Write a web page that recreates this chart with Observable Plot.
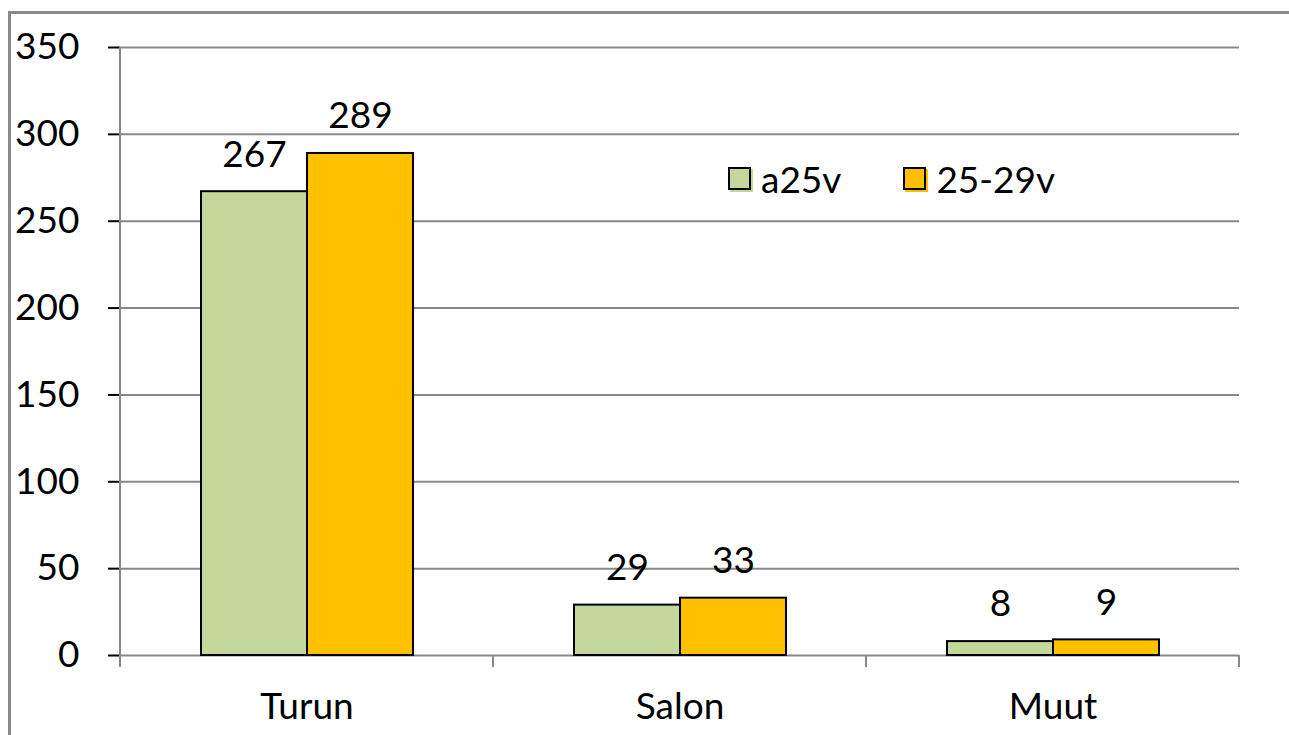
<!DOCTYPE html>
<html>
<head>
<meta charset="utf-8">
<script src="https://cdn.jsdelivr.net/npm/d3@7"></script>
<script src="https://cdn.jsdelivr.net/npm/@observablehq/plot@0.6"></script>
<style>
  html, body { margin: 0; padding: 0; background: #fff; }
  #wrap { position: relative; width: 1289px; height: 735px; overflow: hidden; font-family: Lato, "Open Sans", sans-serif; }
  #frame { position: absolute; left: 8px; top: 11px; width: 1400px; height: 900px; border: 3px solid #8a8a8a; pointer-events: none; z-index: 2; }
  #legend { position: absolute; left: 728px; top: 156px; display: flex; align-items: center; font-size: 37px; color: #000; z-index: 3; }
  .sw { display: inline-block; width: 19px; height: 19px; border: 2px solid #000; margin-right: 10px; box-shadow: 2px 2px 0 0 var(--c); }
  .item { display: flex; align-items: center; margin-right: 62px; }
  #legend .item:last-child { margin-right: 0; }
  svg [aria-label="y-axis tick"] { stroke: #888; stroke-width: 2px; }
</style>
</head>
<body>
<div id="wrap">
  <div id="chart"></div>
  <div id="legend"></div>
  <div id="frame"></div>
</div>
<script>
const categories = ["Turun", "Salon", "Muut"];
const seriesNames = ["a25v", "25-29v"];
const seriesColors = ["#C4D79B", "#FFC000"];
const valuesA25v = [267, 29, 8];
const values2529v = [289, 33, 9];
const yTicks = [0, 50, 100, 150, 200, 250, 300, 350];

const data = [];
categories.forEach((c, i) => {
  data.push({cat: c, series: seriesNames[0], value: valuesA25v[i]});
  data.push({cat: c, series: seriesNames[1], value: values2529v[i]});
});

const chart = Plot.plot({
  width: 1289,
  height: 735,
  marginLeft: 119,
  marginRight: 49,
  marginTop: 47,
  marginBottom: 80,
  style: {fontFamily: "Lato, 'Open Sans', sans-serif", fontSize: "37px", color: "#000", background: "transparent"},
  fx: {domain: categories, padding: 0, label: null, axis: "bottom", tickSize: 0, tickPadding: 37},
  x: {domain: seriesNames, paddingInner: 0, paddingOuter: 0.75, axis: null},
  y: {domain: [0, 350], ticks: yTicks, tickSize: 12, tickPadding: 29, label: null},
  color: {domain: seriesNames, range: seriesColors},
  marks: [
    Plot.ruleY(yTicks, {stroke: "#888", strokeWidth: 2}),
    Plot.barY(data, {fx: "cat", x: "series", y: "value", fill: "series", stroke: "#000", strokeWidth: 2}),
    Plot.text(data, {fx: "cat", x: "series", y: "value", text: d => String(d.value), dy: -37, fill: "#000", fontSize: 37})
  ]
});
document.getElementById("chart").appendChild(chart);

// axis line and category boundary ticks, from the plot's own scales
const ys = chart.scale("y");
const fxs = chart.scale("fx");
const y0 = ys.apply(0), yTop = ys.apply(yTicks[yTicks.length - 1]);
const bounds = categories.map(c => fxs.apply(c));
bounds.push(fxs.apply(categories[categories.length - 1]) + fxs.bandwidth);
const g = d3.select(chart).append("g").attr("stroke", "#888").attr("stroke-width", 2);
g.append("line").attr("x1", bounds[0]).attr("x2", bounds[0]).attr("y1", yTop).attr("y2", y0);
bounds.forEach(x => {
  g.append("line").attr("x1", x).attr("x2", x).attr("y1", y0).attr("y2", y0 + 12);
});

const legend = document.getElementById("legend");
seriesNames.forEach((s, i) => {
  const item = document.createElement("div");
  item.className = "item";
  const sw = document.createElement("span");
  sw.className = "sw";
  sw.style.background = seriesColors[i];
  sw.style.setProperty("--c", seriesColors[i]);
  const t = document.createElement("span");
  t.textContent = s;
  item.appendChild(sw);
  item.appendChild(t);
  legend.appendChild(item);
});
</script>
</body>
</html>
